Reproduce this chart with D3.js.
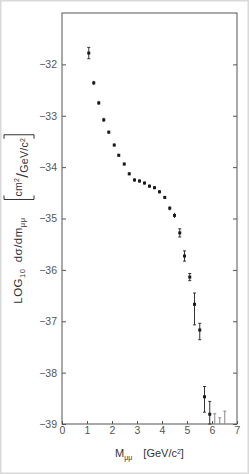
<!DOCTYPE html>
<html>
<head>
<meta charset="utf-8">
<script src="https://cdn.jsdelivr.net/npm/d3@7"></script>
<style>
	html, body { margin: 0; padding: 0; background: #fff; }
	svg { display: block; font-family: "Liberation Sans", "DejaVu Sans", sans-serif; }
</style>
</head>
<body>
<div id="chart"></div>
<script>
// dimuon mass spectrum
const mass = [1.07, 1.27, 1.47, 1.67, 1.87, 2.09, 2.27, 2.49, 2.69, 2.9, 3.1, 3.3, 3.5, 3.7, 3.9, 4.11, 4.31, 4.5, 4.71, 4.9, 5.11, 5.3, 5.51, 5.7, 5.91];
const logSigma = [-31.78, -32.36, -32.75, -33.08, -33.32, -33.57, -33.77, -33.94, -34.13, -34.25, -34.27, -34.31, -34.37, -34.40, -34.48, -34.59, -34.80, -34.94, -35.28, -35.73, -36.14, -36.67, -37.17, -38.47, -38.81];
const errUp = [0.11, 0.04, 0.04, 0.04, 0.03, 0.03, 0.03, 0.03, 0.03, 0.03, 0.03, 0.03, 0.03, 0.03, 0.03, 0.03, 0.04, 0.05, 0.08, 0.1, 0.07, 0.22, 0.13, 0.2, 0.25];
const errDown = [0.11, 0.04, 0.04, 0.04, 0.03, 0.03, 0.03, 0.03, 0.03, 0.03, 0.03, 0.03, 0.03, 0.03, 0.03, 0.03, 0.04, 0.05, 0.08, 0.1, 0.07, 0.40, 0.19, 0.30, 0.19];
// upper limits (bars drawn down to the axis)
const limitMass = [6.11, 6.31, 6.51];
const limitTop = [-38.80, -38.88, -38.75];
const xTicks = [0, 1, 2, 3, 4, 5, 6, 7];
const yTicks = [-32, -33, -34, -35, -36, -37, -38, -39];

const width = 249, height = 474;
const margin = {top: 13, right: 12, bottom: 50, left: 62};

const svg = d3.select("#chart").append("svg")
	.attr("width", width)
	.attr("height", height);

svg.append("rect")
	.attr("x", 0.75).attr("y", 0.75)
	.attr("width", width - 1.5).attr("height", height - 1.5)
	.attr("fill", "#fff")
	.attr("stroke", "#d9d9d9")
	.attr("stroke-width", 1.5);

const x = d3.scaleLinear([0, 7], [margin.left, width - margin.right]);
const y = d3.scaleLinear([-39, -31], [height - margin.bottom, margin.top]);

// frame
svg.append("rect")
	.attr("x", x(0)).attr("y", y(-31))
	.attr("width", x(7) - x(0)).attr("height", y(-39) - y(-31))
	.attr("fill", "none")
	.attr("stroke", "#555")
	.attr("stroke-width", 1);

const styleAxis = g => g
	.call(g => g.select(".domain").remove())
	.call(g => g.selectAll("line").attr("stroke", "#555"))
	.call(g => g.selectAll("text").attr("fill", "#555").attr("font-size", 10.5));

svg.append("g")
	.attr("transform", `translate(0,${y(-39)})`)
	.call(d3.axisBottom(x).tickValues(xTicks).tickFormat(d3.format("d")).tickSizeInner(-3).tickSizeOuter(0).tickPadding(3))
	.call(styleAxis);

svg.append("g")
	.attr("transform", `translate(${x(0)},0)`)
	.call(d3.axisLeft(y).tickValues(yTicks).tickFormat(d3.format("d")).tickSizeInner(-4).tickSizeOuter(0).tickPadding(5))
	.call(styleAxis);

svg.append("g")
	.attr("transform", `translate(${x(7)},0)`)
	.call(d3.axisRight(y).tickValues(yTicks).tickFormat("").tickSizeInner(-4).tickSizeOuter(0))
	.call(styleAxis);

// error bars
const pts = mass.map((m, i) => ({m, v: logSigma[i], hi: logSigma[i] + errUp[i], lo: Math.max(-39, logSigma[i] - errDown[i])}));
const bars = svg.append("g")
	.attr("stroke", "#333")
	.attr("stroke-width", 1)
	.selectAll("g")
	.data(pts)
	.join("g");
bars.append("line")
	.attr("x1", d => x(d.m)).attr("x2", d => x(d.m))
	.attr("y1", d => y(d.hi)).attr("y2", d => y(d.lo));
bars.filter(d => y(d.lo) - y(d.hi) > 6)
	.call(g => g.append("line")
		.attr("x1", d => x(d.m) - 1.5).attr("x2", d => x(d.m) + 1.5)
		.attr("y1", d => y(d.hi)).attr("y2", d => y(d.hi)))
	.call(g => g.append("line")
		.attr("x1", d => x(d.m) - 1.5).attr("x2", d => x(d.m) + 1.5)
		.attr("y1", d => y(d.lo)).attr("y2", d => y(d.lo)));

svg.append("g")
	.attr("fill", "#1a1a1a")
	.selectAll("rect")
	.data(pts)
	.join("rect")
	.attr("x", d => x(d.m) - 1.5)
	.attr("y", d => y(d.v) - 1.5)
	.attr("width", 3)
	.attr("height", 3);

// upper limits
const lim = svg.append("g")
	.attr("stroke", "#888")
	.attr("stroke-width", 1)
	.selectAll("g")
	.data(limitMass.map((m, i) => ({m, v: limitTop[i]})))
	.join("g");
lim.append("line")
	.attr("x1", d => x(d.m)).attr("x2", d => x(d.m))
	.attr("y1", d => y(d.v)).attr("y2", y(-39));
lim.append("line")
	.attr("x1", d => x(d.m) - 1.5).attr("x2", d => x(d.m) + 1.5)
	.attr("y1", d => y(d.v)).attr("y2", d => y(d.v));

// y label, rotated
const ylab = svg.append("text")
	.attr("transform", `translate(22,${y(-35.82)}) rotate(-90)`)
	.attr("text-anchor", "middle")
	.attr("font-size", 11.5)
	.attr("letter-spacing", 0.5)
	.attr("fill", "#333");
ylab.append("tspan").text("LOG");
ylab.append("tspan").attr("font-size", 7.5).attr("dy", 3).text("10");
ylab.append("tspan").attr("dy", -3).text("\u2002d\u03c3/dm");
ylab.append("tspan").attr("font-size", 7.5).attr("dy", 3).text("\u03bc\u03bc");

const fracY = y(-34.0);
const frac = svg.append("text")
	.attr("transform", `translate(28,${fracY}) rotate(-90)`)
	.attr("text-anchor", "middle")
	.attr("font-size", 10.5)
	.attr("letter-spacing", 0.3)
	.attr("fill", "#333");
frac.append("tspan").attr("dy", -6).text("cm");
frac.append("tspan").attr("font-size", 7).attr("dy", -3).text("2");
frac.append("tspan").attr("font-size", 17).attr("dy", 9).text("/");
frac.append("tspan").attr("dy", 0).text("GeV/c");
frac.append("tspan").attr("font-size", 7).attr("dy", -3).text("2");

// brackets around the unit
const bb = frac.node().getBBox();
const pad = 3;
const yTop = fracY - bb.width / 2 - pad, yBot = fracY + bb.width / 2 + pad;
const xl = 4, xr = 34;
svg.append("path")
	.attr("fill", "none")
	.attr("stroke", "#333")
	.attr("stroke-width", 1)
	.attr("d", `M${xl},${yTop + 4}V${yTop}H${xr}V${yTop + 4}M${xl},${yBot - 4}V${yBot}H${xr}V${yBot - 4}`);

// x label
const xlab = svg.append("text")
	.attr("x", x(3.5))
	.attr("y", y(-39) + 33)
	.attr("text-anchor", "middle")
	.attr("font-size", 11)
	.attr("fill", "#333");
xlab.append("tspan").text("M");
xlab.append("tspan").attr("font-size", 7).attr("dy", 3).text("\u03bc\u03bc");
xlab.append("tspan").attr("dy", -3).text("\u2003[GeV/c");
xlab.append("tspan").attr("font-size", 7).attr("dy", -3).text("2");
xlab.append("tspan").attr("dy", 3).text("]");
</script>
</body>
</html>
